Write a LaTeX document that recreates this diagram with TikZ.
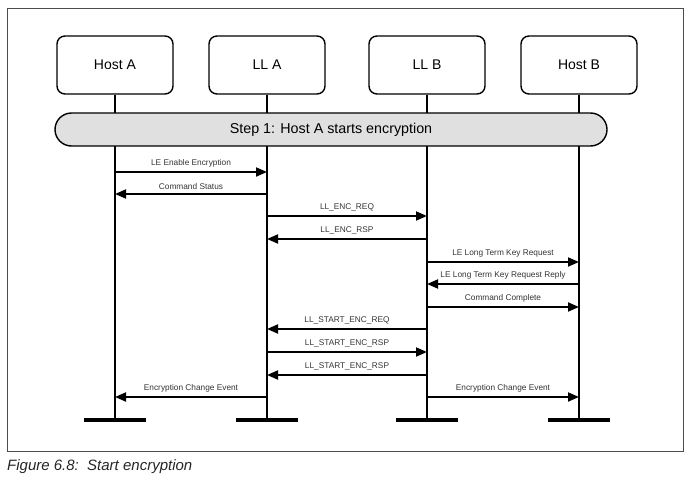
\documentclass[tikz,border=0pt]{standalone}
\usepackage{fontspec}
\setmainfont{Liberation Sans}
\usetikzlibrary{arrows.meta}

\tikzset{
  actor/.style={draw, line width=1.4pt, rounded corners=8pt, minimum width=116pt, minimum height=58pt, font=\fontsize{14}{16}\selectfont},
  life/.style={line width=2pt},
  bar/.style={line width=4pt},
  msg/.style={line width=1.8pt, -{Triangle[length=11pt, width=9pt]}},
  msglabel/.style={font=\fontsize{8.3}{9}\selectfont, text=black!80, inner sep=1pt, above=2.5pt}
}

\begin{document}
\begin{tikzpicture}[x=1pt, y=-1pt]
  \useasboundingbox (0,0) rectangle (688,482);
  \draw[black!70, line width=0.8pt] (7,8) rectangle (683,451);

  % the four parties
  \node[actor] (hostA) at (115,65) {Host A};
  \node[actor] (llA)   at (267,65) {LL A};
  \node[actor] (llB)   at (427,65) {LL B};
  \node[actor] (hostB) at (579,65) {Host B};

  \foreach \n in {hostA, llA, llB, hostB} {
    \draw[life] (\n.south) -- (\n.south |- 0,420) coordinate (\n-end);
    \draw[bar] ([xshift=-31pt]\n-end) -- ([xshift=31pt]\n-end);
  }

  \node[draw, line width=1.4pt, fill=black!12, rounded corners=16.5pt, minimum width=552pt, minimum height=33pt,
        font=\fontsize{14.3}{16}\selectfont] (step) at (331,129.5) {Step 1: Host A starts encryption};

  % messages
  \foreach \a/\b/\y/\txt in {
      hostA/llA/172/LE Enable Encryption,
      llA/hostA/194/Command Status,
      llA/llB/216/LL\_ENC\_REQ,
      llB/llA/239/LL\_ENC\_RSP,
      llB/hostB/262/LE Long Term Key Request,
      hostB/llB/284/LE Long Term Key Request Reply,
      llB/hostB/307/Command Complete,
      llB/llA/329/LL\_START\_ENC\_REQ,
      llA/llB/352/LL\_START\_ENC\_RSP,
      llB/llA/375/LL\_START\_ENC\_RSP,
      llA/hostA/397/Encryption Change Event,
      llB/hostB/397/Encryption Change Event} {
    \draw[msg] (\a.south |- 0,\y) -- (\b.south |- 0,\y) node[msglabel, midway] {\txt};
  }

  \node[anchor=west, inner sep=0pt, font=\fontsize{15}{17}\selectfont\itshape, text=black!85] (caption) at (7,467) {Figure 6.8:\ \ Start encryption};
\end{tikzpicture}
\end{document}
